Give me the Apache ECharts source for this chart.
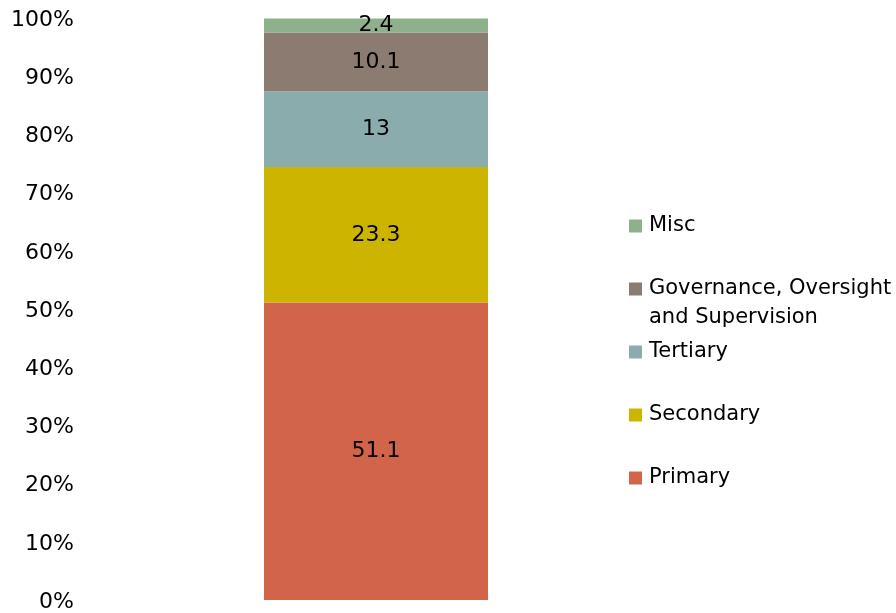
<!DOCTYPE html>
<html>
<head>
<meta charset="utf-8">
<style>
  html, body { margin: 0; padding: 0; background: #ffffff; }
  #chart { width: 896px; height: 613px; }
</style>
<script src="https://cdn.jsdelivr.net/npm/echarts@6/dist/echarts.min.js"></script>
</head>
<body>
<div id="chart"></div>
<script>
// Spending shares, stacked bottom to top
const categories = [''];
const seriesNames = ['Primary', 'Secondary', 'Tertiary', 'Governance, Oversight and Supervision', 'Misc'];
const primary = [51.1];
const secondary = [23.3];
const tertiary = [13];
const governance = [10.1];
const misc = [2.4];
const tickLabels = ['0%', '10%', '20%', '30%', '40%', '50%', '60%', '70%', '80%', '90%', '100%'];

const values = [primary, secondary, tertiary, governance, misc];
const colors = ['#d2644a', '#ccb400', '#8aacac', '#8b7b70', '#8eb08a'];
const FONT = 'DejaVu Sans';

const chart = echarts.init(document.getElementById('chart'), null, { renderer: 'canvas' });

const series = seriesNames.map((name, i) => ({
  name: name,
  type: 'bar',
  stack: 'total',
  barWidth: 224,
  data: values[i],
  itemStyle: { color: colors[i] },
  label: {
    show: true,
    position: 'inside',
    color: '#000000',
    fontFamily: FONT,
    fontSize: 22,
    padding: [3, 0, 0, 0],
    formatter: p => String(p.value)
  },
  emphasis: { disabled: true }
}));

// One legend block per series so the entries sit at fixed vertical spacing
const legendOrder = ['Misc', 'Governance, Oversight and Supervision', 'Tertiary', 'Secondary', 'Primary'];
const legendCenters = [224, 287, 350, 413, 476];
const legends = legendOrder.map((name, i) => ({
  data: [name],
  orient: 'vertical',
  left: 624,
  top: legendCenters[i] - 15,
  itemWidth: 13,
  itemHeight: 13,
  icon: 'rect',
  selectedMode: false,
  formatter: n => (n.startsWith('Governance') ? 'Governance, Oversight' : n),
  textStyle: {
    fontFamily: FONT, fontSize: 21, color: '#000000', lineHeight: 24,
    padding: [0, 0, 0, 2]
  }
}));

chart.setOption({
  animation: false,
  backgroundColor: '#ffffff',
  grid: { left: 85, right: 229, top: 18, bottom: 12, containLabel: false },
  legend: legends,
  graphic: [{
    type: 'text',
    left: 649,
    top: legendCenters[1] + 20,
    style: { text: 'and Supervision', font: '21px "DejaVu Sans"', fill: '#000000' }
  }],
  xAxis: {
    type: 'category',
    data: categories,
    axisLine: { show: false },
    axisTick: { show: false },
    axisLabel: { show: false }
  },
  yAxis: {
    type: 'value',
    min: 0,
    max: 100,
    interval: 10,
    splitLine: { show: false },
    axisLine: { show: false },
    axisTick: { show: false },
    axisLabel: {
      margin: 11,
      color: '#000000',
      formatter: v => '{t|' + tickLabels[Math.round(v / 10)] + '}',
      rich: {
        t: { fontFamily: FONT, fontSize: 22, color: '#000000', padding: [4, 0, 0, 0] }
      }
    }
  },
  series: series
});
</script>
</body>
</html>
